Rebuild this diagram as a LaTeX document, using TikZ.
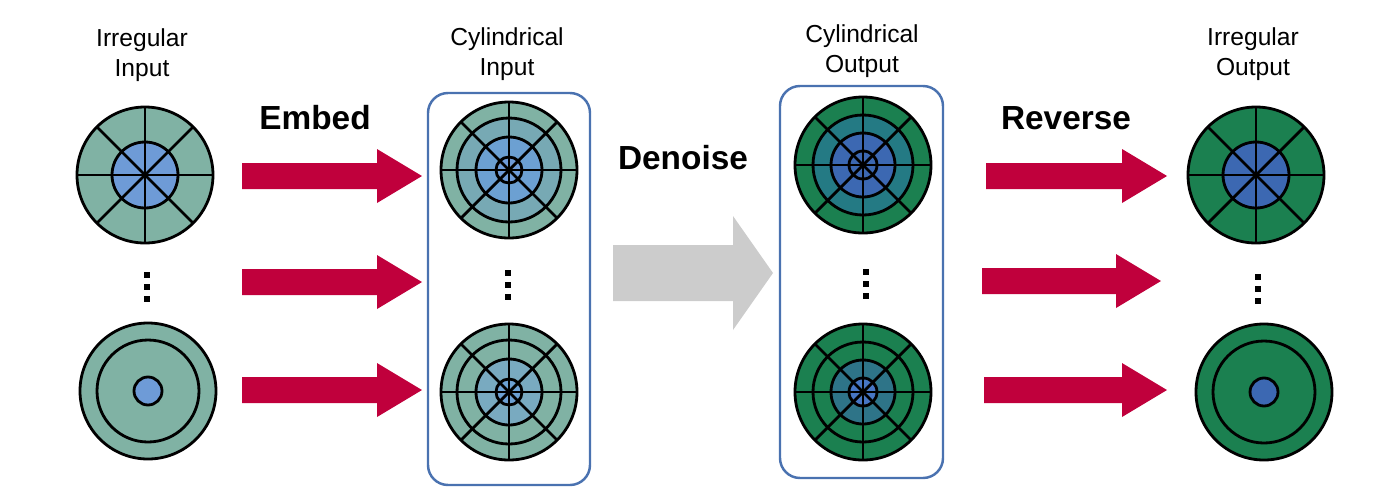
\documentclass[tikz,border=0pt]{standalone}
\usepackage{fontspec}
\setmainfont{Liberation Sans}

\definecolor{tealin}{HTML}{80B2A4}
\definecolor{bluein}{HTML}{6E9BD7}
\definecolor{mixina}{HTML}{77A9B4}
\definecolor{mixinb}{HTML}{6CA0D2}
\definecolor{mixinc}{HTML}{79AAC0}
\definecolor{greenout}{HTML}{1B8050}
\definecolor{blueout}{HTML}{3C68B2}
\definecolor{mixouta}{HTML}{247A84}
\definecolor{mixoutb}{HTML}{2E7488}
\definecolor{mixoutc}{HTML}{4776C4}
\definecolor{embedred}{HTML}{C0003C}
\definecolor{denoisegray}{HTML}{CCCCCC}
\definecolor{boxblue}{HTML}{4A72B0}

% one disk: centre, radius/colour rings (outer first), spokes yes=1
\newcommand{\disk}[3]{%
  \foreach \r/\c in {#2} \filldraw[ring, fill=\c] (#1) circle (\r);
  \ifnum#3=1
    \foreach \a in {0,45,...,315} \draw[ring] (#1) -- ++(\a:68);
  \fi
}
% block arrow: left end, right end, y, colour, half shaft, half head, head length
\newcommand{\blockarrow}[7]{%
  \fill[#4] (#1,#3-#5) -- (#2-#7,#3-#5) -- (#2-#7,#3-#6) -- (#2,#3)
    -- (#2-#7,#3+#6) -- (#2-#7,#3+#5) -- (#1,#3+#5) -- cycle;
}
\newcommand{\vdotsbox}[1]{%
  \foreach \d in {-12,0,12} \fill ($(#1)+(-3,\d-3)$) rectangle ($(#1)+(3,\d+3)$);
}

\usetikzlibrary{calc}

\begin{document}
\begin{tikzpicture}[x=0.02cm, y=-0.02cm,
    ring/.style={draw=black, line width=1.6pt},
    title/.style={align=center, font=\fontsize{14}{17}\selectfont},
    verb/.style={font=\fontsize{19}{22}\selectfont\bfseries},
    frame/.style={draw=boxblue, line width=1.4pt, rounded corners=0.4cm}]
    \useasboundingbox (0,0) rectangle (1400,491);

    % centres
    \coordinate (inA) at (145,175);
    \coordinate (inB) at (148,391);
    \coordinate (cinA) at (509,170);
    \coordinate (cinB) at (509,392);
    \coordinate (coutA) at (863,165);
    \coordinate (coutB) at (863,392);
    \coordinate (outA) at (1256,175);
    \coordinate (outB) at (1264,392);

    % frames
    \draw[frame] (428,93) rectangle (590,485);
    \draw[frame] (780,86) rectangle (943,478);

    % disks
    \disk{inA}{68/tealin,33/bluein}{1}
    \disk{inB}{68/tealin,51/tealin,14/bluein}{0}
    \disk{cinA}{68/tealin,52/mixina,33/mixinb,13/bluein}{1}
    \disk{cinB}{68/tealin,52/tealin,33/mixinc,13/mixinb}{1}
    \disk{coutA}{68/greenout,50/mixouta,32/blueout,14/blueout}{1}
    \disk{coutB}{68/greenout,50/greenout,32/mixoutb,14/mixoutc}{1}
    \disk{outA}{68/greenout,33/blueout}{1}
    \disk{outB}{68/greenout,51/greenout,14/blueout}{0}

    % arrows
    \blockarrow{242}{422}{176}{embedred}{13}{27}{45}
    \blockarrow{242}{422}{282}{embedred}{13}{27}{45}
    \blockarrow{242}{422}{390}{embedred}{13}{27}{45}
    \blockarrow{613}{773}{273}{denoisegray}{28}{57}{40}
    \blockarrow{986}{1167}{176}{embedred}{13}{27}{45}
    \blockarrow{982}{1161}{281}{embedred}{13}{27}{45}
    \blockarrow{984}{1167}{390}{embedred}{13}{27}{45}

    % dots
    \coordinate (dotsA) at (147,287);
    \coordinate (dotsB) at (508,285);
    \coordinate (dotsC) at (866,284);
    \coordinate (dotsD) at (1258,289);
    \vdotsbox{dotsA}
    \vdotsbox{dotsB}
    \vdotsbox{dotsC}
    \vdotsbox{dotsD}

    % labels
    \node[title] (irrin) at (142,55) {Irregular\\Input};
    \node[title] (cylin) at (507,54) {Cylindrical\\Input};
    \node[title] (cylout) at (862,51) {Cylindrical\\Output};
    \node[title] (irrout) at (1253,54) {Irregular\\Output};
    \node[verb] (embed) at (315,118) {Embed};
    \node[verb] (denoise) at (683,158) {Denoise};
    \node[verb] (reverse) at (1066,118) {Reverse};
\end{tikzpicture}
\end{document}
